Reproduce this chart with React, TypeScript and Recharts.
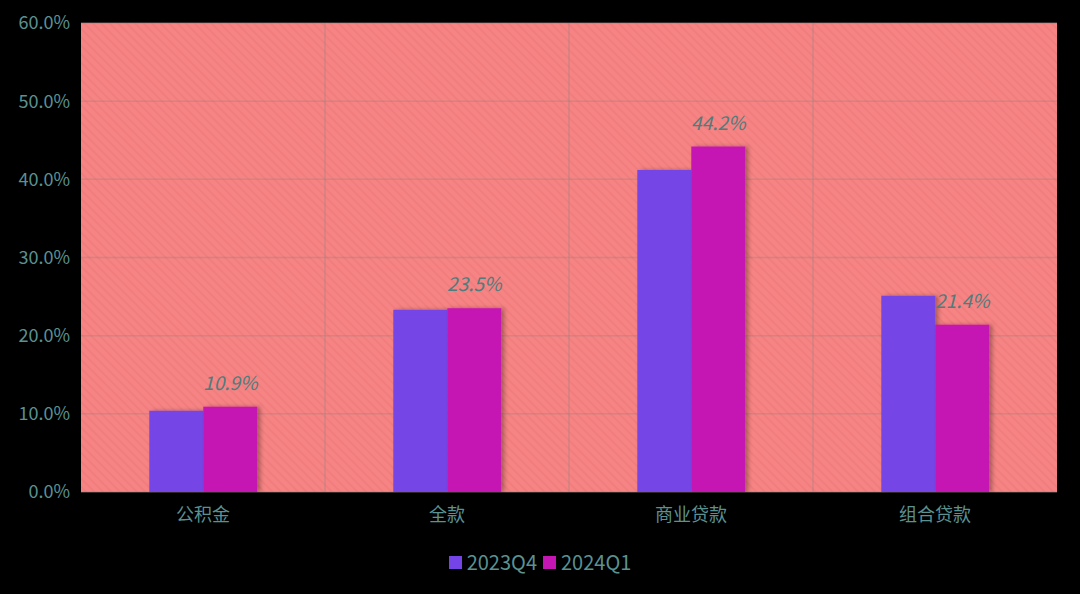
import { BarChart, Bar, XAxis, YAxis, CartesianGrid, Legend, LabelList } from 'recharts'

// --- Data ---

const categories = ['公积金', '全款', '商业贷款', '组合贷款']
const q4Values = [10.4, 23.3, 41.2, 25.1]
const q1Values = [10.9, 23.5, 44.2, 21.4]
const yTicks = [0, 10, 20, 30, 40, 50, 60]

const chartData = categories.map((name, i) => ({
  name,
  q4: q4Values[i],
  q1: q1Values[i],
}))

const FONT = '"Noto Sans CJK SC", "Noto Sans", sans-serif'
const AXIS_TEXT = '#5b9191'

const LegendContent = () => (
  <div style={{ display: 'flex', justifyContent: 'center', alignItems: 'center', fontFamily: FONT, fontSize: 20, color: AXIS_TEXT, lineHeight: '24px' }}>
    {[
      { label: '2023Q4', color: '#7444e6' },
      { label: '2024Q1', color: '#c516b4' },
    ].map(item => (
      <span key={item.label} style={{ display: 'inline-flex', alignItems: 'center', margin: '0 3px' }}>
        <span style={{ width: 13, height: 13, background: item.color, marginRight: 5, display: 'inline-block' }} />
        {item.label}
      </span>
    ))}
  </div>
)

// vertical grid lines sit on the category boundaries, not the tick centers
const boundaryLines = ({ offset }: { offset: { left: number; width: number } }) =>
  categories.map((_, i) => offset.left + (offset.width * i) / categories.length).slice(1)

export default function App() {
  return (
    <div style={{ position: 'fixed', left: 0, top: 0, width: 1080, height: 594, background: '#000' }}>
      <BarChart
        width={1080}
        height={594}
        data={chartData}
        margin={{ top: 23, right: 23, left: 0, bottom: 20 }}
        barCategoryGap="28%"
        barGap={0}
      >
        <defs>
          <pattern id="stripes" width="6" height="6" patternUnits="userSpaceOnUse" patternTransform="rotate(-45)">
            <rect width="6" height="6" fill="#f78484" />
            <rect width="2" height="6" fill="#f17d7d" />
          </pattern>
          <filter id="barShadow" x="-20%" y="-10%" width="140%" height="120%">
            <feDropShadow dx="3" dy="0" stdDeviation="2" floodColor="#000" floodOpacity="0.3" />
          </filter>
        </defs>
        <CartesianGrid
          fill="url(#stripes)"
          stroke="rgba(165,130,130,0.45)"
          strokeWidth={1.5}
          verticalCoordinatesGenerator={boundaryLines}
        />
        <XAxis
          dataKey="name"
          axisLine={false}
          tickLine={false}
          tickSize={0}
          tickMargin={16}
          height={58}
          tick={{ fill: AXIS_TEXT, fontSize: 18, fontFamily: FONT }}
        />
        <YAxis
          domain={[0, 60]}
          ticks={yTicks}
          width={81}
          axisLine={false}
          tickLine={false}
          tickSize={0}
          tickMargin={11}
          tickFormatter={v => `${Number(v).toFixed(1)}%`}
          tick={{ fill: AXIS_TEXT, fontSize: 18, fontFamily: FONT }}
        />
        <Legend
          verticalAlign="bottom"
          height={24}
          wrapperStyle={{ left: 0, width: 1080 }}
          content={<LegendContent />}
        />
        <Bar dataKey="q4" name="2023Q4" fill="#7444e6" filter="url(#barShadow)" isAnimationActive={false} />
        <Bar dataKey="q1" name="2024Q1" fill="#c516b4" filter="url(#barShadow)" isAnimationActive={false}>
          <LabelList
            dataKey="q1"
            position="top"
            offset={17}
            formatter={(v: number) => `${v}%`}
            style={{ fill: '#4f7c7c', fontSize: 19, fontStyle: 'italic', fontFamily: FONT }}
          />
        </Bar>
      </BarChart>
    </div>
  )
}
